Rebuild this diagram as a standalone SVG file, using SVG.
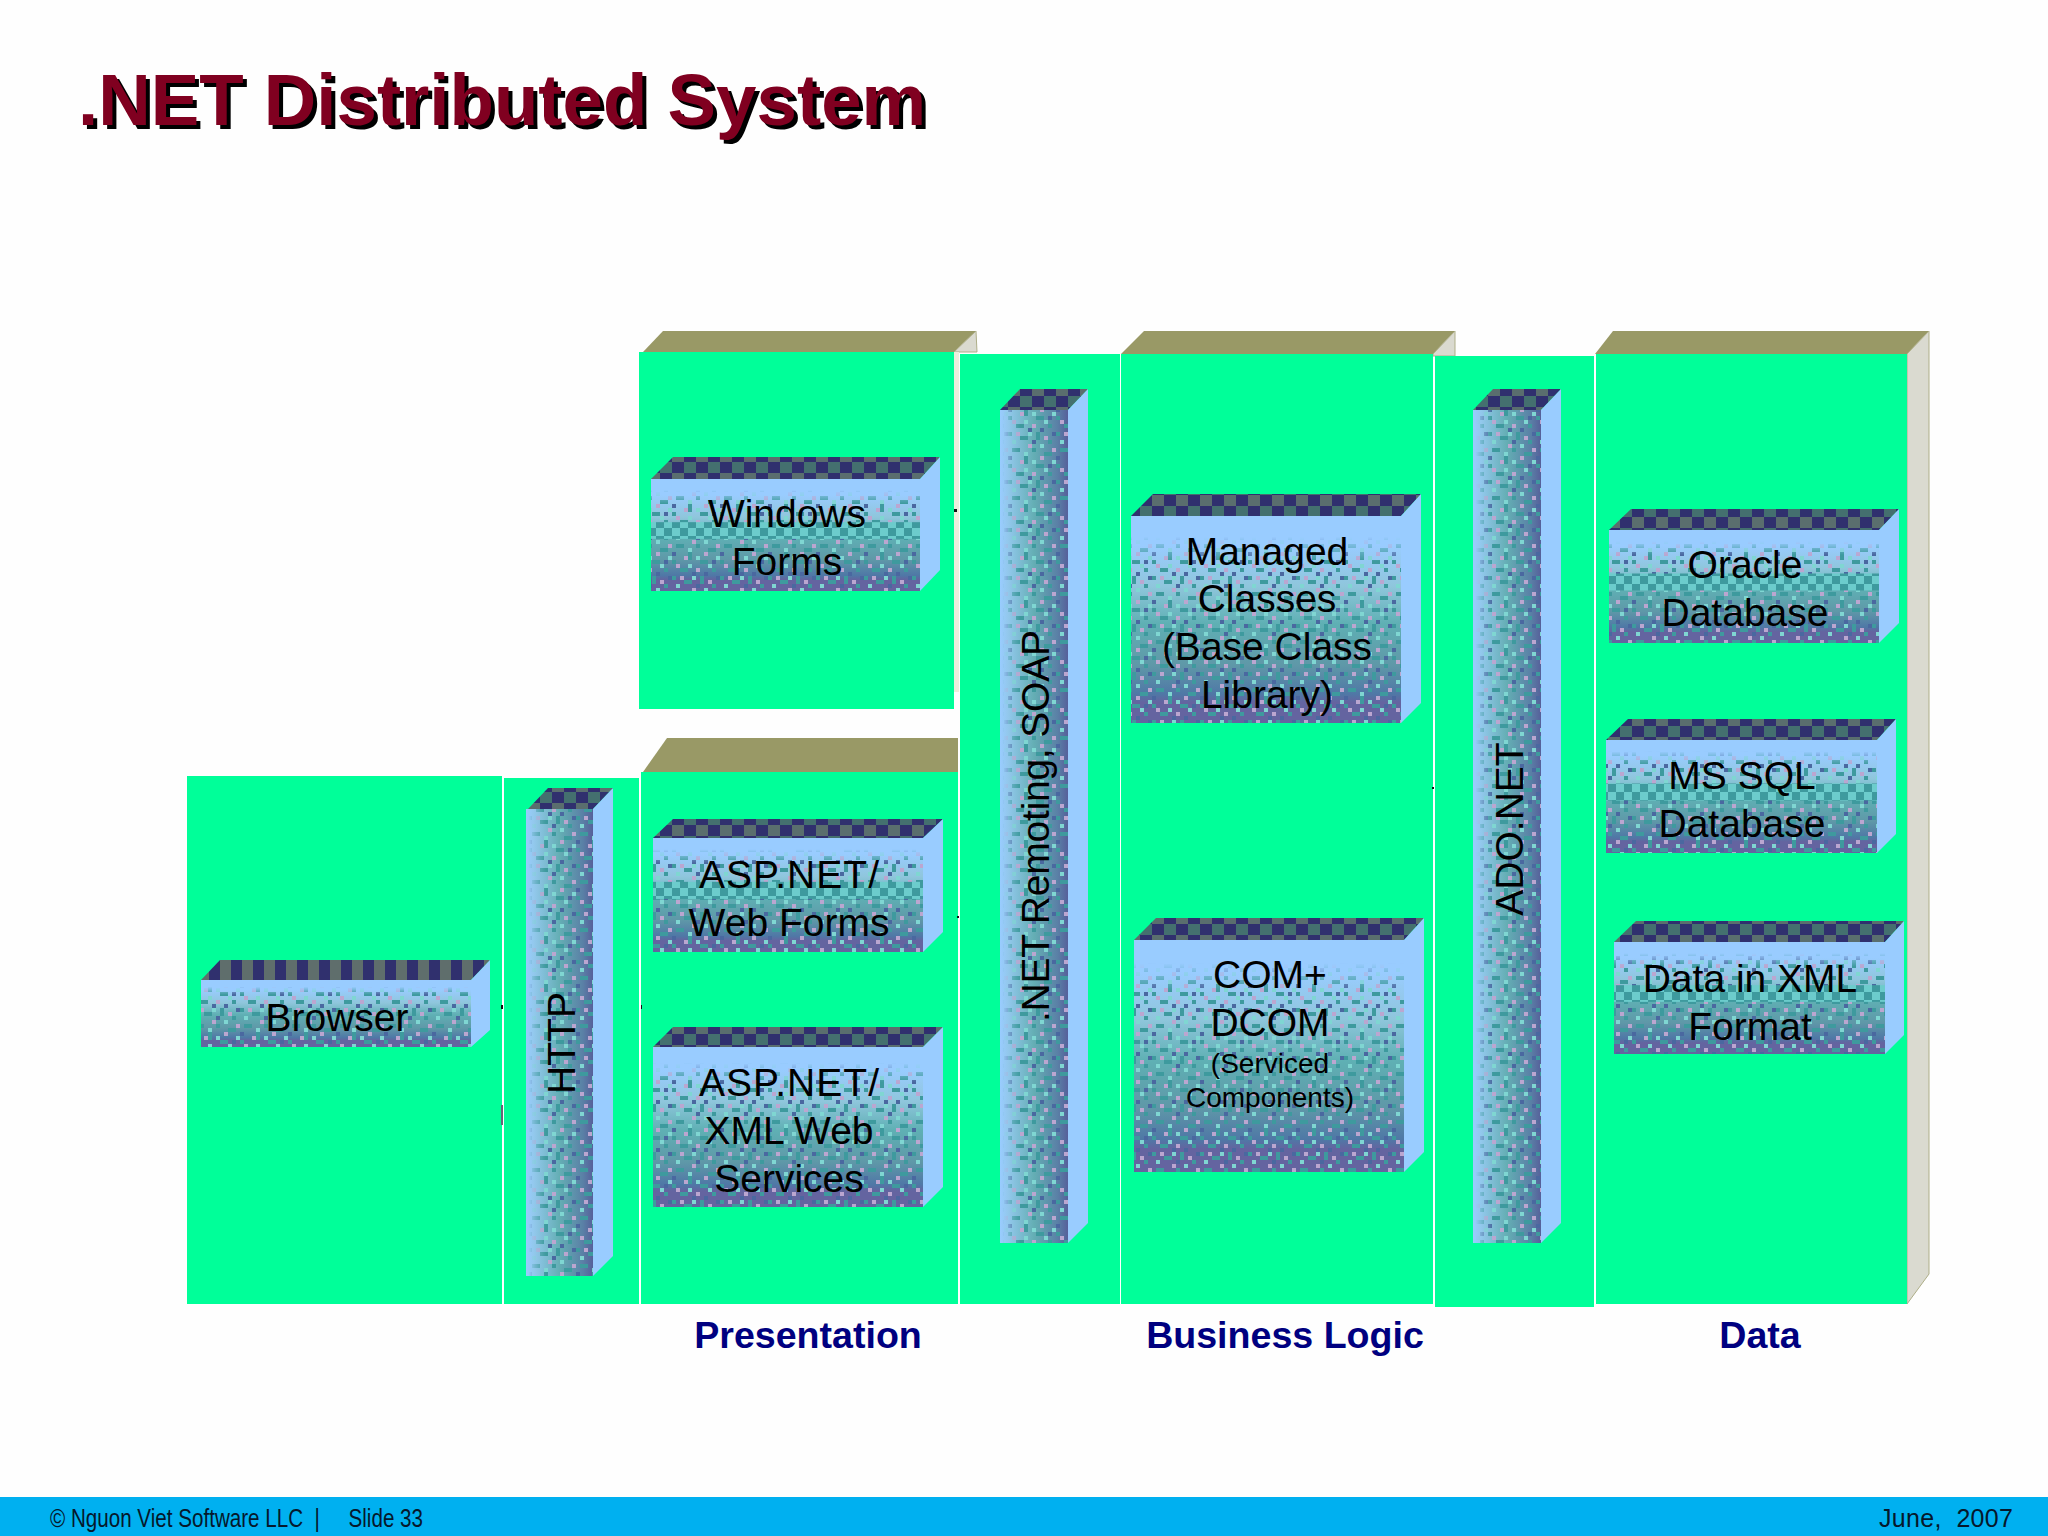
<svg xmlns="http://www.w3.org/2000/svg" width="2048" height="1536" viewBox="0 0 2048 1536">
<style>
.panel{fill:#00FF99}
.ptop{fill:#999966}
.pside{fill:#DADAD0;stroke:#AEAE88;stroke-width:1}
.strip{fill:#EEEEDD}
.side{fill:#99CCFF}
.h{fill:url(#gradH)}
.v{fill:url(#gradV)}
.hn{fill:url(#noise)}
.vn{fill:url(#noise)}
.hb{fill:url(#band)}
.top{fill:url(#check)}
text{font-family:"Liberation Sans",Arial,sans-serif;fill:#000}
.t{font-size:39px;text-anchor:middle}
.s{font-size:28px;text-anchor:middle}
.lab{font-size:37.6px;font-weight:bold;fill:#000080;text-anchor:middle}
.ttl{font-size:72.7px;font-weight:bold}
.ft{font-size:25px;fill:#06182C}
</style>
<defs>
<linearGradient id="gradH" x1="0" y1="0" x2="0" y2="1">
<stop offset="0" stop-color="#99CCFF"/><stop offset=".14" stop-color="#99CCFF"/><stop offset=".34" stop-color="#8FC6DC"/><stop offset=".52" stop-color="#5FB0B4"/><stop offset=".72" stop-color="#5F98A8"/><stop offset=".86" stop-color="#4F78A6"/><stop offset=".9" stop-color="#6464A0"/><stop offset="1" stop-color="#6464A0"/>
</linearGradient>
<linearGradient id="gradV" x1="0" y1="0" x2="1" y2="0">
<stop offset="0" stop-color="#99CCFF"/><stop offset=".12" stop-color="#92C8EC"/><stop offset=".5" stop-color="#64AEB4"/><stop offset=".85" stop-color="#5A80A6"/><stop offset="1" stop-color="#56609A"/>
</linearGradient>
<linearGradient id="fadeH" x1="0" y1="0" x2="0" y2="1"><stop offset=".1" stop-color="#000"/><stop offset=".22" stop-color="#fff"/></linearGradient>
<linearGradient id="fadeV" x1="0" y1="0" x2="1" y2="0"><stop offset=".04" stop-color="#000"/><stop offset=".3" stop-color="#fff"/></linearGradient>
<linearGradient id="fadeB" x1="0" y1="0" x2="0" y2="1"><stop offset=".38" stop-color="#000"/><stop offset=".39" stop-color="#fff"/><stop offset=".53" stop-color="#fff"/><stop offset=".54" stop-color="#000"/></linearGradient>
<mask id="mH" maskContentUnits="objectBoundingBox" x="0" y="0" width="1" height="1"><rect width="1" height="1" fill="url(#fadeH)"/></mask>
<mask id="mV" maskContentUnits="objectBoundingBox" x="0" y="0" width="1" height="1"><rect width="1" height="1" fill="url(#fadeV)"/></mask>
<mask id="mB" maskContentUnits="objectBoundingBox" x="0" y="0" width="1" height="1"><rect width="1" height="1" fill="url(#fadeB)"/></mask>
<pattern id="noise" width="48" height="48" patternUnits="userSpaceOnUse">
<g fill="#3E9A9E"><rect x="0" y="0" width="4" height="4"/><rect x="12" y="4" width="8" height="4"/><rect x="28" y="0" width="4" height="8"/><rect x="40" y="8" width="4" height="4"/><rect x="4" y="16" width="8" height="4"/><rect x="24" y="16" width="4" height="4"/><rect x="36" y="20" width="8" height="4"/><rect x="16" y="24" width="4" height="8"/><rect x="0" y="32" width="4" height="4"/><rect x="28" y="32" width="8" height="4"/><rect x="8" y="40" width="8" height="4"/><rect x="40" y="40" width="4" height="4"/></g>
<g fill="#BBA6D0"><rect x="8" y="0" width="4" height="4"/><rect x="36" y="4" width="4" height="4"/><rect x="20" y="12" width="4" height="4"/><rect x="44" y="16" width="4" height="4"/><rect x="12" y="28" width="4" height="4"/><rect x="32" y="24" width="4" height="4"/><rect x="4" y="36" width="4" height="4"/><rect x="24" y="40" width="4" height="4"/></g>
<g fill="#7FD6D2"><rect x="20" y="0" width="4" height="4"/><rect x="4" y="8" width="4" height="4"/><rect x="32" y="12" width="4" height="4"/><rect x="16" y="20" width="4" height="4"/><rect x="44" y="28" width="4" height="4"/><rect x="24" y="28" width="4" height="4"/><rect x="36" y="36" width="4" height="4"/><rect x="16" y="36" width="4" height="4"/></g>
<g fill="#4A68A0"><rect x="44" y="0" width="4" height="4"/><rect x="24" y="8" width="4" height="4"/><rect x="0" y="24" width="4" height="4"/><rect x="40" y="32" width="4" height="4"/><rect x="20" y="44" width="4" height="4"/><rect x="32" y="44" width="4" height="4"/></g>
</pattern>
<pattern id="band" width="16" height="16" patternUnits="userSpaceOnUse">
<rect width="16" height="16" fill="#3E9A9E"/><rect width="8" height="8" fill="#6CCCCC"/><rect x="8" y="8" width="8" height="8" fill="#6CCCCC"/>
</pattern>
<pattern id="check" width="24" height="22" patternUnits="userSpaceOnUse">
<rect width="24" height="22" fill="#30306E"/><rect x="12" width="12" height="11" fill="#44706F"/><rect y="11" width="12" height="11" fill="#5A6E6E"/>
</pattern>
<pattern id="stripe" width="22" height="22" patternUnits="userSpaceOnUse">
<rect width="22" height="22" fill="#30306E"/><rect width="11" height="22" fill="#5F6E6C"/>
</pattern>
</defs>
<rect width="2048" height="1536" fill="#FEFEFE"/>
<g id="title">
<text class="ttl" x="82" y="129" style="fill:#000">.NET Distributed System</text>
<text class="ttl" x="78" y="125" style="fill:#800020">.NET Distributed System</text>
</g>
<g id="panel-windows">
<polygon class="ptop" points="643,352 663,331 976,331 954,352"/>
<polygon class="pside" points="954,352 976,331 977,352 954,352"/>
<rect class="strip" x="954" y="352" width="5" height="340"/>
<rect class="panel" x="639" y="352" width="315" height="357"/>
</g>
<g id="panel-browser"><rect class="panel" x="187" y="776" width="315" height="528"/></g>
<g id="panel-http"><rect class="panel" x="504" y="778" width="135" height="526"/></g>
<g id="panel-presentation">
<polygon class="ptop" points="643,772 667,738 958,738 958,772"/>
<rect class="panel" x="641" y="772" width="317" height="532"/>
</g>
<g id="panel-remoting"><rect class="panel" x="960" y="354" width="160" height="950"/></g>
<g id="panel-business">
<polygon class="ptop" points="1121,354 1144,331 1455,331 1433,354"/>
<polygon class="pside" points="1433,354 1455,331 1455,356 1433,356"/>
<rect class="panel" x="1121" y="354" width="312" height="950"/>
</g>
<g id="panel-ado"><rect class="panel" x="1435" y="356" width="159" height="951"/></g>
<g id="panel-data">
<polygon class="ptop" points="1595,354 1613,331 1929,331 1907,354"/>
<polygon class="pside" points="1907,354 1929,331 1929,1274 1907,1304"/>
<rect class="panel" x="1596" y="354" width="311" height="950"/>
</g>
<g id="marks" fill="#111">
<rect x="954" y="509" width="3" height="3"/><rect x="501" y="1005" width="2" height="4"/><rect x="641" y="1005" width="1" height="4"/><rect x="501" y="1105" width="2" height="20" fill="#667"/><rect x="957" y="916" width="2" height="2"/><rect x="1432" y="787" width="2" height="2"/>
</g>

<g id="windows-forms">
<polygon class="top" points="651,479 673,457 940,457 920,479"/>
<polygon class="side" points="920,479 940,457 940,570 920,591"/>
<rect class="h" x="651" y="479" width="269" height="112"/><rect class="hn" mask="url(#mH)" x="651" y="479" width="269" height="112"/><rect class="hb" mask="url(#mB)" x="651" y="479" width="269" height="112"/>
<text class="t" x="787" y="527">Windows</text><text class="t" x="787" y="575">Forms</text>
</g>
<g id="browser">
<polygon points="201,980 220,960 490,960 471,980" fill="url(#stripe)"/>
<polygon class="side" points="471,980 490,960 490,1030 471,1047"/>
<rect class="h" x="201" y="980" width="270" height="67"/><rect class="hn" mask="url(#mH)" x="201" y="980" width="270" height="67"/>
<text class="t" x="337" y="1031">Browser</text>
</g>
<g id="http">
<polygon class="top" points="528,809 548,788 613,788 593,809"/>
<polygon class="side" points="593,809 613,788 613,1256 593,1276"/>
<rect class="v" x="526" y="809" width="67" height="467"/><rect class="vn" mask="url(#mV)" x="526" y="809" width="67" height="467"/>
<text class="t" x="575" y="1043" transform="rotate(-90 575 1043)">HTTP</text>
</g>
<g id="asp-web-forms">
<polygon class="top" points="653,838 673,819 943,819 923,838"/>
<polygon class="side" points="923,838 943,819 943,932 923,952"/>
<rect class="h" x="653" y="838" width="270" height="114"/><rect class="hn" mask="url(#mH)" x="653" y="838" width="270" height="114"/><rect class="hb" mask="url(#mB)" x="653" y="838" width="270" height="114"/>
<text class="t" x="789" y="888" textLength="180">ASP.NET/</text><text class="t" x="789" y="936">Web Forms</text>
</g>
<g id="asp-xml">
<polygon class="top" points="653,1047 673,1027 943,1027 923,1047"/>
<polygon class="side" points="923,1047 943,1027 943,1187 923,1207"/>
<rect class="h" x="653" y="1047" width="270" height="160"/><rect class="hn" mask="url(#mH)" x="653" y="1047" width="270" height="160"/>
<text class="t" x="789" y="1096" textLength="180">ASP.NET/</text><text class="t" x="789" y="1144">XML Web</text><text class="t" x="789" y="1192">Services</text>
</g>
<g id="remoting">
<polygon class="top" points="1000,410 1020,389 1088,389 1068,410"/>
<polygon class="side" points="1068,410 1088,389 1088,1223 1068,1243"/>
<rect class="v" x="1000" y="410" width="68" height="833"/><rect class="vn" mask="url(#mV)" x="1000" y="410" width="68" height="833"/>
<text class="t" x="1049" y="826" textLength="392" transform="rotate(-90 1049 826)">.NET Remoting, SOAP</text>
</g>
<g id="managed">
<polygon class="top" points="1131,516 1153,494 1421,494 1401,516"/>
<polygon class="side" points="1401,516 1421,494 1421,703 1401,723"/>
<rect class="h" x="1131" y="516" width="270" height="207"/><rect class="hn" mask="url(#mH)" x="1131" y="516" width="270" height="207"/>
<text class="t" x="1267" y="565">Managed</text><text class="t" x="1267" y="612">Classes</text><text class="t" x="1267" y="660">(Base Class</text><text class="t" x="1267" y="708">Library)</text>
</g>
<g id="com">
<polygon class="top" points="1134,940 1156,918 1424,918 1404,940"/>
<polygon class="side" points="1404,940 1424,918 1424,1152 1404,1172"/>
<rect class="h" x="1134" y="940" width="270" height="232"/><rect class="hn" mask="url(#mH)" x="1134" y="940" width="270" height="232"/>
<text class="t" x="1270" y="988">COM+</text><text class="t" x="1270" y="1036">DCOM</text><text class="s" x="1270" y="1073">(Serviced</text><text class="s" x="1270" y="1107">Components)</text>
</g>
<g id="ado">
<polygon class="top" points="1473,410 1493,389 1561,389 1541,410"/>
<polygon class="side" points="1541,410 1561,389 1561,1223 1541,1243"/>
<rect class="v" x="1473" y="410" width="68" height="833"/><rect class="vn" mask="url(#mV)" x="1473" y="410" width="68" height="833"/>
<text class="t" x="1523" y="829" transform="rotate(-90 1523 829)">ADO.NET</text>
</g>
<g id="oracle">
<polygon class="top" points="1609,530 1631,509 1899,509 1879,530"/>
<polygon class="side" points="1879,530 1899,509 1899,623 1879,643"/>
<rect class="h" x="1609" y="530" width="270" height="113"/><rect class="hn" mask="url(#mH)" x="1609" y="530" width="270" height="113"/><rect class="hb" mask="url(#mB)" x="1609" y="530" width="270" height="113"/>
<text class="t" x="1745" y="578">Oracle</text><text class="t" x="1745" y="626">Database</text>
</g>
<g id="mssql">
<polygon class="top" points="1606,740 1628,719 1896,719 1877,740"/>
<polygon class="side" points="1877,740 1896,719 1896,834 1877,853"/>
<rect class="h" x="1606" y="740" width="271" height="113"/><rect class="hn" mask="url(#mH)" x="1606" y="740" width="271" height="113"/><rect class="hb" mask="url(#mB)" x="1606" y="740" width="271" height="113"/>
<text class="t" x="1742" y="789">MS SQL</text><text class="t" x="1742" y="837">Database</text>
</g>
<g id="xml-data">
<polygon class="top" points="1614,942 1636,921 1904,921 1885,942"/>
<polygon class="side" points="1885,942 1904,921 1904,1035 1885,1054"/>
<rect class="h" x="1614" y="942" width="271" height="112"/><rect class="hn" mask="url(#mH)" x="1614" y="942" width="271" height="112"/><rect class="hb" mask="url(#mB)" x="1614" y="942" width="271" height="112"/>
<text class="t" x="1750" y="992">Data in XML</text><text class="t" x="1750" y="1040">Format</text>
</g>

<g id="labels">
<text class="lab" x="808" y="1348">Presentation</text>
<text class="lab" x="1285" y="1348">Business Logic</text>
<text class="lab" x="1760" y="1348">Data</text>
</g>
<g id="footer">
<rect x="0" y="1497" width="2048" height="39" fill="#00B0F0"/>
<text class="ft" x="50" y="1527" textLength="373" lengthAdjust="spacingAndGlyphs" xml:space="preserve">© Nguon Viet Software LLC  |     Slide 33</text>
<text class="ft" x="1879" y="1527" textLength="134" xml:space="preserve">June,  2007</text>
</g>
</svg>
